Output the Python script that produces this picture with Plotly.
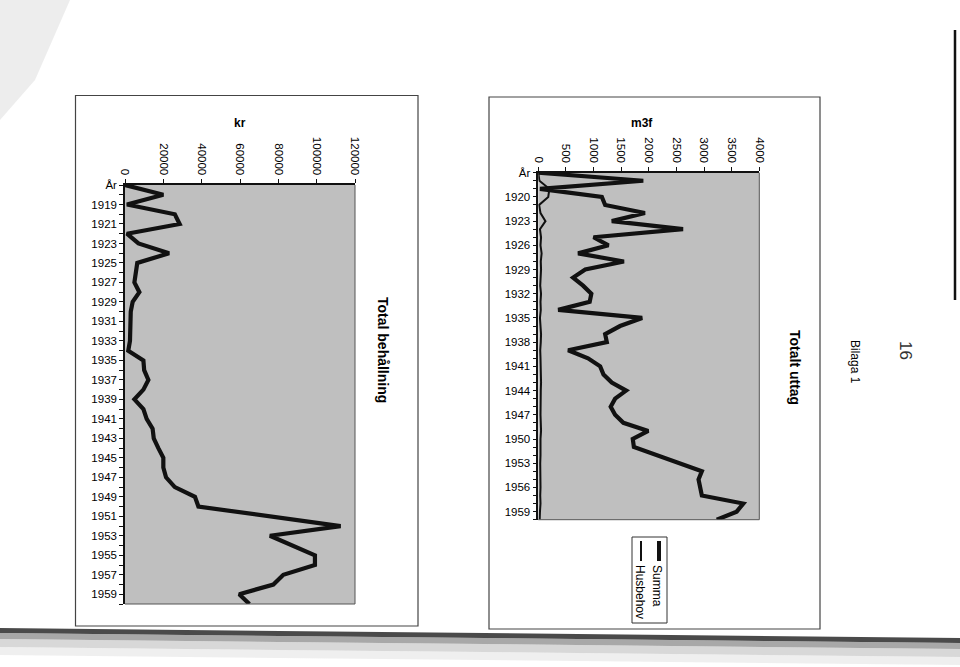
import plotly.graph_objects as go

W, H = 960, 667

# ---------------- data ----------------
years = ["År"] + [str(y) for y in range(1918, 1961)]

# Total behållning (kr)
behallning = [0, 20000, 1000, 26000, 28500, 1000, 7000, 23000, 6400, 5700,
              4900, 7500, 4000, 3000, 3000, 3000, 2600, 1700, 9600, 10000,
              12200, 9600, 4900, 9600, 11300, 14400, 15000, 17400, 20000, 20000,
              21400, 26000, 36500, 38300, 76000, 112500, 75600, 87800, 99100, 99100,
              82600, 77400, 59600, 64900]

# Totalt uttag (m3f)
summa = [0, 1900, 30, 1150, 1210, 1930, 1330, 2620, 1000, 1270,
         720, 1550, 850, 630, 810, 960, 930, 360, 1880, 1480,
         1210, 1240, 540, 900, 1120, 1180, 1330, 1590, 1390, 1310,
         1390, 1540, 1990, 1710, 1730, 2150, 2550, 2960, 2900, 2930,
         2960, 3710, 3590, 3230]
husbehov = [0, 20, 200, 180, 15, 40, 130, 30, 50, 40,
            60, 45, 50, 40, 35, 50, 40, 45, 30, 40,
            50, 45, 35, 40, 45, 40, 50, 45, 40, 35,
            40, 45, 50, 40, 45, 40, 35, 40, 45, 40,
            35, 40, 30, 25]

kr_ticks = [0, 20000, 40000, 60000, 80000, 100000, 120000]
m3f_ticks = [0, 500, 1000, 1500, 2000, 2500, 3000, 3500, 4000]

left_labels = [y if i % 2 == 0 else "" for i, y in enumerate(years)]
right_labels = [y if i % 3 == 0 else "" for i, y in enumerate(years)]

FONT = "Liberation Sans, Arial, sans-serif"
INK = "#000000"
PLOT_BG = "#bfbfbf"


def fx(px):
    return px / W


def fy(py):
    return 1 - py / H


fig = go.Figure()

fig.add_trace(go.Scatter(x=behallning, y=years, mode="lines",
                         line=dict(color="#111", width=4.2),
                         xaxis="x", yaxis="y", showlegend=False))
fig.add_trace(go.Scatter(x=husbehov, y=years, mode="lines",
                         line=dict(color="#111", width=2),
                         xaxis="x2", yaxis="y2", showlegend=False, name="Husbehov"))
fig.add_trace(go.Scatter(x=summa, y=years, mode="lines",
                         line=dict(color="#111", width=4.2),
                         xaxis="x2", yaxis="y2", showlegend=False, name="Summa"))

tickfont = dict(family=FONT, size=11.5, color=INK)

L = dict(x0=125, x1=355, y0=185, y1=604)
R = dict(x0=538.3, x1=759.3, y0=172.7, y1=519.7)

common_x = dict(side="top", tickangle=90, ticks="outside", ticklen=4, tickcolor="#111",
                showgrid=False, zeroline=False, showline=True, linecolor="#111",
                linewidth=1.5, tickfont=tickfont, tickmode="array", fixedrange=True,
                automargin=False)
common_y = dict(type="category", ticks="outside", ticklen=4, tickcolor="#111",
                showgrid=False, showline=True, linecolor="#111", linewidth=1.5,
                tickfont=tickfont, tickmode="array", tickvals=years, range=[43, 0],
                fixedrange=True, automargin=False)

fig.update_layout(
    width=W, height=H, autosize=False, margin=dict(l=0, r=0, t=0, b=0, pad=0),
    paper_bgcolor="white", plot_bgcolor=PLOT_BG, showlegend=False,
    xaxis=dict(domain=[fx(L["x0"]), fx(L["x1"])], range=[0, 120000],
               tickvals=kr_ticks, ticktext=[str(v) for v in kr_ticks],
               anchor="y", **common_x),
    yaxis=dict(domain=[fy(L["y1"]), fy(L["y0"])], ticktext=left_labels,
               anchor="x", **common_y),
    xaxis2=dict(domain=[fx(R["x0"]), fx(R["x1"])], range=[0, 4000],
                tickvals=m3f_ticks, ticktext=[str(v) for v in m3f_ticks],
                anchor="y2", **common_x),
    yaxis2=dict(domain=[fy(R["y1"]), fy(R["y0"])], ticktext=right_labels,
                anchor="x2", **common_y),
)

shapes = []


def rect(x0, y0, x1, y1, color="#333", width=1, fill=None, dash=None, layer="above"):
    d = dict(type="rect", xref="paper", yref="paper",
             x0=fx(x0), x1=fx(x1), y0=fy(y1), y1=fy(y0),
             line=dict(color=color, width=width), layer=layer)
    if dash:
        d["line"]["dash"] = dash
    if fill:
        d["fillcolor"] = fill
    shapes.append(d)


def line(x0, y0, x1, y1, color="#111", width=1):
    shapes.append(dict(type="line", xref="paper", yref="paper",
                       x0=fx(x0), x1=fx(x1), y0=fy(y0), y1=fy(y1),
                       line=dict(color=color, width=width)))


# chart frames
rect(75.5, 95.5, 418, 626, color="#444", width=1.2)
rect(489, 97, 820, 629, color="#444", width=1.2)
# plot-area border (right/bottom thin)
line(L["x1"], L["y0"], L["x1"], L["y1"], color="#555", width=1)
line(L["x0"], L["y1"], L["x1"], L["y1"], color="#555", width=1)
line(R["x1"], R["y0"], R["x1"], R["y1"], color="#555", width=1)
line(R["x0"], R["y1"], R["x1"], R["y1"], color="#555", width=1)

# legend box
rect(632, 537, 667, 623, color="#333", width=1)
line(659, 541, 659, 561, width=4)
line(641, 541, 641, 561, width=2)

# scan artefacts: bottom page edge shading
bands = [(628, 633, "#2a2a2a", 0.85), (633, 639, "#6e6e6e", 0.6),
         (639, 647, "#a8a8a8", 0.45), (647, 655, "#d6d6d6", 0.4)]
for y0, y1, col, op in bands:
    shapes.append(dict(type="path", xref="paper", yref="paper",
                       path=f"M {fx(0)},{fy(y0)} L {fx(960)},{fy(y0+10)} L {fx(960)},{fy(y1+10)} L {fx(0)},{fy(y1)} Z",
                       fillcolor=col, opacity=op, line=dict(width=0), layer="below"))
# top-left haze
shapes.append(dict(type="path", xref="paper", yref="paper",
                   path=f"M {fx(0)},{fy(0)} L {fx(70)},{fy(0)} L {fx(35)},{fy(80)} L {fx(0)},{fy(120)} Z",
                   fillcolor="#d8d8d8", opacity=0.45, line=dict(width=0), layer="below"))
# right page edge line
line(955, 30, 955, 300, color="#111", width=2.5)

fig.update_layout(shapes=shapes)

ann = []


def text(x, y, s, size=12, bold=False, angle=0, xanchor="center", yanchor="middle", color=INK, family=FONT):
    ann.append(dict(x=fx(x), y=fy(y), xref="paper", yref="paper", text=f"<b>{s}</b>" if bold else s,
                    showarrow=False, textangle=angle, xanchor=xanchor, yanchor=yanchor,
                    font=dict(family=family, size=size, color=color)))


text(240, 123, "kr", size=12, bold=True)
text(642, 123, "m3f", size=12, bold=True)
text(383, 350, "Total behållning", size=14, bold=True, angle=90)
text(795, 367, "Totalt uttag", size=14, bold=True, angle=90)
text(855, 362, "Bilaga 1", size=12, angle=90)
text(905, 350, "16", size=17, angle=90, color="#333")
text(657, 563, "Summa", size=12, angle=90, yanchor="top")
text(640, 563, "Husbehov", size=12, angle=90, yanchor="top")

fig.update_layout(annotations=ann)

fig.write_html(
    "out.html",
    config={"displayModeBar": False},
    post_script="document.body.style.margin='0';document.body.style.padding='0';"
                "document.body.style.overflow='hidden';document.documentElement.style.overflow='hidden';",
)
